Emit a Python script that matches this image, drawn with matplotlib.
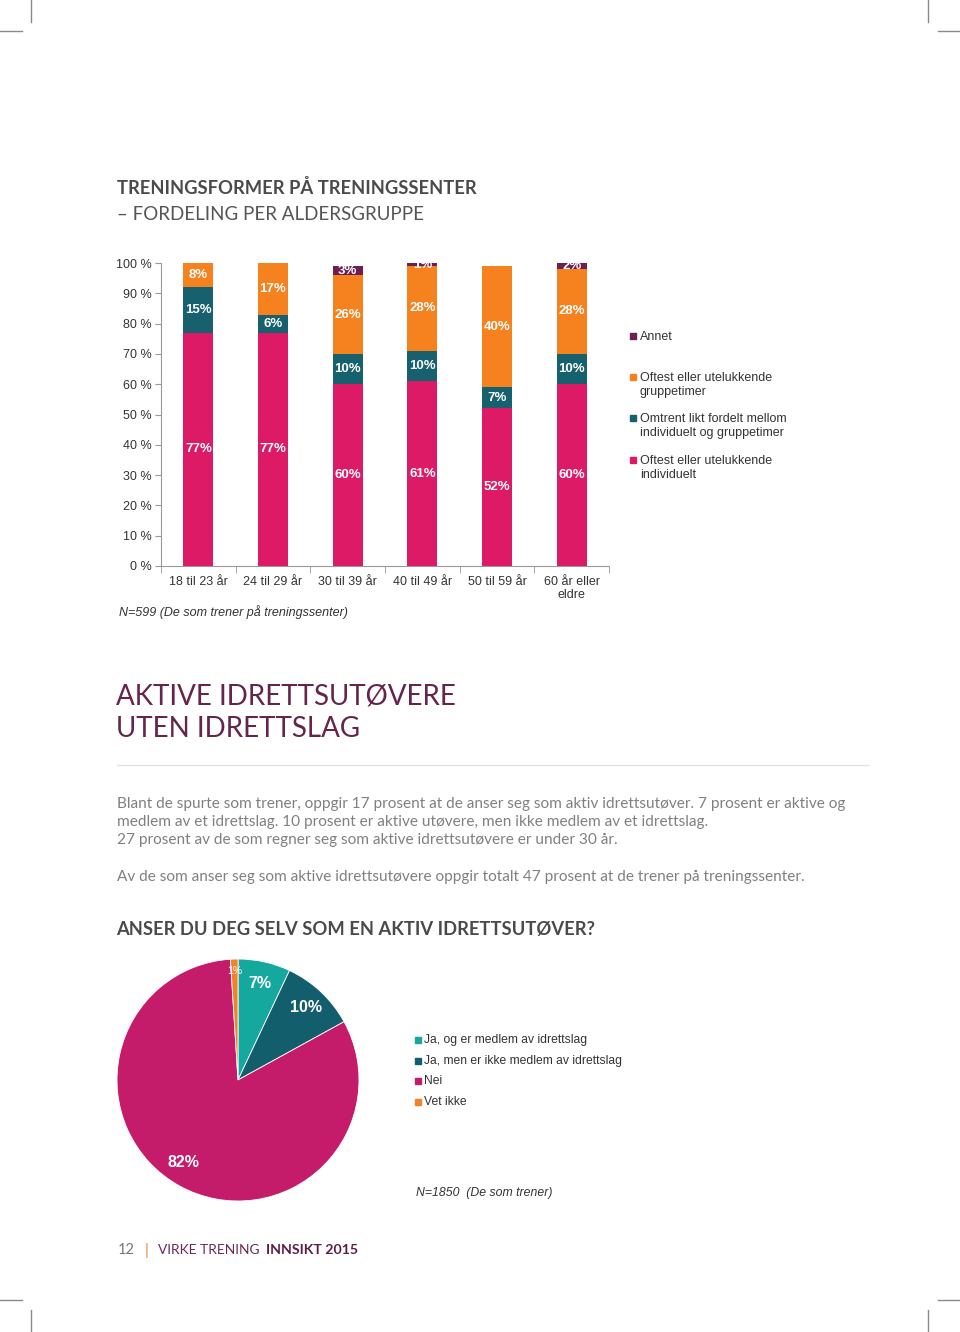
import matplotlib
matplotlib.use("Agg")
from matplotlib import pyplot as plt
from matplotlib.lines import Line2D
from matplotlib.patches import Rectangle
import numpy as np

# --- data: training forms per age group ---
age_groups = ['18 til 23 år', '24 til 29 år', '30 til 39 år', '40 til 49 år',
              '50 til 59 år', '60 år eller\neldre']
individuelt = [77, 77, 60, 61, 52, 60]
omtrent_likt = [15, 6, 10, 10, 7, 10]
gruppetimer = [8, 17, 26, 28, 40, 28]
annet = [0, 0, 3, 1, 0, 2]
bar_series = ['Oftest eller utelukkende\nindividuelt',
              'Omtrent likt fordelt mellom\nindividuelt og gruppetimer',
              'Oftest eller utelukkende\ngruppetimer',
              'Annet']
bar_colors = ['#dc1a66', '#17606d', '#f5821f', '#6d1f52']

# --- data: active athletes pie ---
pie_labels = ['Ja, og er medlem av idrettslag', 'Ja, men er ikke medlem av idrettslag',
              'Nei', 'Vet ikke']
pie_values = [7, 10, 82, 1]
pie_colors = ['#14a89f', '#135e6c', '#c41c6a', '#f2812a']

W, H = 960, 1332
fig = plt.figure(figsize=(9.6, 13.32), dpi=100)

def fx(px):
    return px / W

def fy(py):
    return 1 - py / H

page_font = 'Lato'
chart_font = 'Liberation Sans'

# crop marks
mark = '#8a8a8a'
for (x0, y0, x1, y1) in [(31, 0, 31, 22), (0, 31, 22, 31), (928, 0, 928, 22), (938, 31, 960, 31),
                         (0, 1300, 22, 1300), (31, 1310, 31, 1332), (938, 1300, 960, 1300),
                         (928, 1310, 928, 1332)]:
    fig.add_artist(Line2D([fx(x0), fx(x1)], [fy(y0), fy(y1)], color=mark, lw=1.0))

# headings
fig.text(fx(117), fy(188), 'TRENINGSFORMER PÅ TRENINGSSENTER', family=page_font,
         fontweight='bold', fontsize=13.2, color='#4a4a4a', va='center')
fig.text(fx(117), fy(214), '– FORDELING PER ALDERSGRUPPE', family=page_font,
         fontsize=13.5, color='#555555', va='center')

# --- stacked bar chart ---
ax = fig.add_axes([fx(161), fy(566), fx(609) - fx(161), fy(263) - fy(566)])
x = np.arange(len(age_groups))
bottom = np.zeros(len(age_groups))
for vals, col in zip([individuelt, omtrent_likt, gruppetimer, annet], bar_colors):
    vals = np.array(vals, dtype=float)
    ax.bar(x, vals, 0.40, bottom=bottom, color=col, zorder=2)
    for xi, v, b in zip(x, vals, bottom):
        if v > 0:
            ax.text(xi, b + v / 2, f'{int(v)}%', ha='center', va='center', color='white',
                    fontweight='bold', fontsize=9.5, family=chart_font, zorder=3)
    bottom += vals

ax.set_xlim(-0.5, len(age_groups) - 0.5)
ax.set_ylim(0, 100)
ax.set_yticks(np.arange(0, 101, 10))
ax.set_yticklabels([f'{v} %' for v in range(0, 101, 10)])
ax.set_xticks(x)
ax.set_xticklabels(age_groups, linespacing=1.1)
ax.set_xticks(np.arange(-0.5, len(age_groups), 1), minor=True)
ax.tick_params(axis='x', which='major', length=0, pad=7.5, labelsize=9, labelcolor='#333333')
ax.tick_params(axis='x', which='minor', length=5, color='#999999')
ax.tick_params(axis='y', length=4, color='#999999', labelsize=9, labelcolor='#333333', pad=3)
for lab in ax.get_xticklabels() + ax.get_yticklabels():
    lab.set_family(chart_font)
for s in ['top', 'right']:
    ax.spines[s].set_visible(False)
for s in ['left', 'bottom']:
    ax.spines[s].set_color('#999999')
    ax.spines[s].set_linewidth(0.8)

fig.text(fx(119), fy(612), 'N=599 (De som trener på treningssenter)', family=chart_font,
         style='italic', fontsize=9, color='#333333', va='center')

# legend for bars (top entry first)
leg_y = [336, 377, 418, 460]
for yy, name, col in zip(leg_y, bar_series[::-1], bar_colors[::-1]):
    fig.add_artist(Rectangle((fx(630), fy(yy + 3)), fx(6), 6 / H, color=col))
    fig.text(fx(640), fy(yy - 5), name, family=chart_font, fontsize=9, color='#333333',
             va='top', linespacing=1.2)

# section heading
fig.text(fx(116), fy(697), 'AKTIVE IDRETTSUTØVERE', family=page_font,
         fontsize=20, color='#65244a', va='center')
fig.text(fx(116), fy(729), 'UTEN IDRETTSLAG', family=page_font,
         fontsize=20, color='#65244a', va='center')
fig.add_artist(Line2D([fx(117), fx(868)], [fy(765), fy(765)], color='#e2e2e2', lw=1))

para = ['Blant de spurte som trener, oppgir 17 prosent at de anser seg som aktiv idrettsutøver. 7 prosent er aktive og',
        'medlem av et idrettslag. 10 prosent er aktive utøvere, men ikke medlem av et idrettslag.',
        '27 prosent av de som regner seg som aktive idrettsutøvere er under 30 år.']
for i, line in enumerate(para):
    fig.text(fx(117), fy(804 + 18 * i), line, family=page_font, fontsize=11.05,
             color='#808080', va='center')
fig.text(fx(117), fy(877), 'Av de som anser seg som aktive idrettsutøvere oppgir totalt 47 prosent at de trener på treningssenter.',
         family=page_font, fontsize=11.05, color='#808080', va='center')

fig.text(fx(116), fy(929), 'ANSER DU DEG SELV SOM EN AKTIV IDRETTSUTØVER?', family=page_font,
         fontweight='bold', fontsize=13.2, color='#4a4a4a', va='center')

# --- pie ---
cx, cy, r = 238, 1080, 121
ax2 = fig.add_axes([fx(cx - r), fy(cy + r), 2 * r / W, 2 * r / H])
wedges, texts, autotexts = ax2.pie(pie_values, colors=pie_colors, startangle=90,
                                   counterclock=False, autopct=lambda p: f'{p:.0f}%',
                                   pctdistance=0.82,
                                   wedgeprops=dict(linewidth=0.6, edgecolor='white'))
for t in autotexts:
    t.set_color('white')
    t.set_fontweight('bold')
    t.set_fontsize(11.5)
    t.set_family(chart_font)
small = autotexts[3]
small.set_fontweight('normal')
small.set_fontsize(7.5)
sx, sy = small.get_position()
small.set_position((sx, sy * 1.1))
# nudge the big label slightly left/up as in the reference
bx, by = autotexts[2].get_position()
autotexts[2].set_position((bx - 0.06, by + 0.04))
ax2.set_xlim(-1, 1)
ax2.set_ylim(-1, 1)
ax2.set_aspect('equal')
ax2.axis('off')

pie_leg_y = [1040, 1061, 1081, 1102]
for yy, name, col in zip(pie_leg_y, pie_labels, pie_colors):
    fig.add_artist(Rectangle((fx(415), fy(yy + 3)), fx(6), 6 / H, color=col))
    fig.text(fx(424), fy(yy), name, family=chart_font, fontsize=8.7, color='#333333', va='center')

fig.text(fx(416), fy(1193), 'N=1850  (De som trener)', family=chart_font, style='italic',
         fontsize=8.8, color='#333333', va='center')

# footer
fig.text(fx(118), fy(1250), '12', family=page_font, fontsize=10.5, color='#777777', va='center')
fig.text(fx(145), fy(1250), '|', family=page_font, fontsize=10.5, color='#e8a060',
         fontweight='bold', va='center')
fig.text(fx(158), fy(1250), 'VIRKE TRENING', family=page_font, fontsize=9.9,
         color='#6d2a55', va='center')
fig.text(fx(266), fy(1250), 'INNSIKT 2015', family=page_font, fontsize=10.2,
         color='#5f1d43', fontweight='bold', va='center')

fig.savefig('out.png', dpi=100, facecolor='white')
